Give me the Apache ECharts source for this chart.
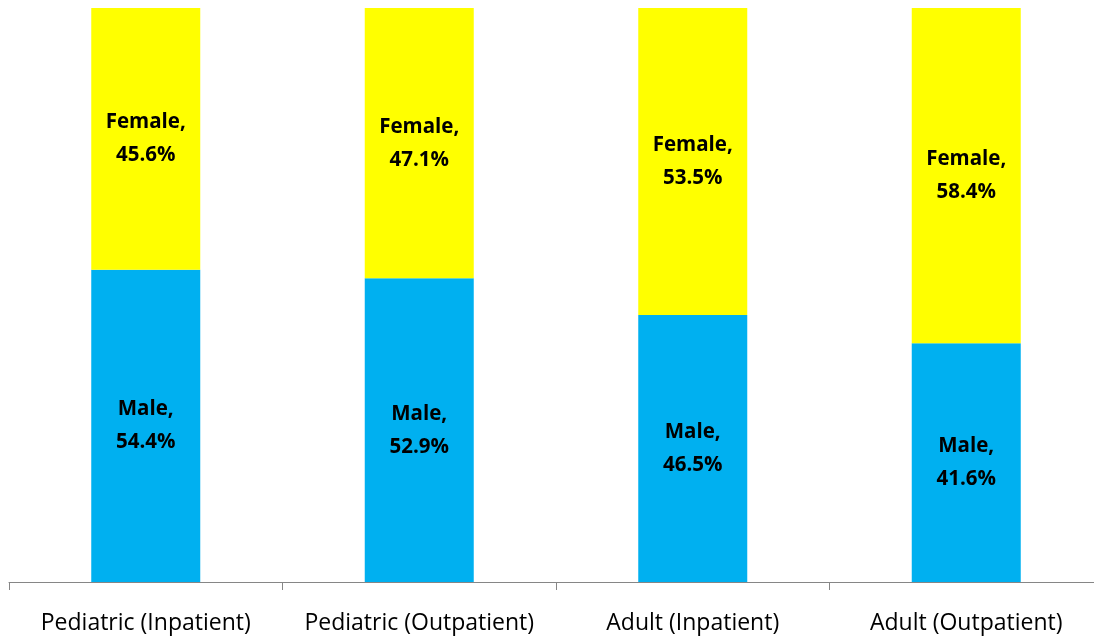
<!DOCTYPE html>
<html>
<head>
<meta charset="utf-8">
<script src="https://cdn.jsdelivr.net/npm/echarts@6/dist/echarts.min.js"></script>
<style>
  html, body { margin: 0; padding: 0; background: #ffffff; overflow: hidden; }
  /* plot area runs slightly past the right edge of the window */
  #chart { width: 1103px; height: 641px; }
</style>
</head>
<body>
<div id="chart"></div>
<script>
// Patient groups along the x axis
const categories = ['Pediatric (Inpatient)', 'Pediatric (Outpatient)', 'Adult (Inpatient)', 'Adult (Outpatient)'];
// Share of each sex within a group, in percent
const maleShare = [54.4, 52.9, 46.5, 41.6];
const femaleShare = [45.6, 47.1, 53.5, 58.4];

const labelStyle = {
  show: true,
  position: 'inside',
  fontFamily: '"Open Sans", sans-serif',
  fontWeight: 'bold',
  fontSize: 20.5,
  lineHeight: 33,
  color: '#000000',
  formatter: p => p.seriesName + ',\n' + p.value.toFixed(1) + '%'
};

const chart = echarts.init(document.getElementById('chart'), null, { renderer: 'canvas' });
chart.setOption({
  animation: false,
  backgroundColor: '#ffffff',
  grid: { left: 9, right: 0, top: 8, bottom: 59, containLabel: false },
  xAxis: {
    type: 'category',
    data: categories,
    axisLine: { lineStyle: { color: '#868686', width: 1 } },
    axisTick: { show: true, interval: 0, length: 8, alignWithLabel: false, lineStyle: { color: '#868686' } },
    axisLabel: {
      interval: 0,
      margin: 30,
      color: '#000000',
      fontFamily: '"Open Sans", sans-serif',
      fontSize: 23
    }
  },
  yAxis: {
    type: 'value',
    min: 0,
    max: 100,
    show: false,
    splitLine: { show: false }
  },
  series: [
    {
      name: 'Male',
      type: 'bar',
      stack: 'share',
      data: maleShare,
      barWidth: 109,
      itemStyle: { color: '#00B0F0' },
      label: labelStyle
    },
    {
      name: 'Female',
      type: 'bar',
      stack: 'share',
      data: femaleShare,
      barWidth: 109,
      itemStyle: { color: '#FFFF00' },
      label: labelStyle
    }
  ]
});
</script>
</body>
</html>
